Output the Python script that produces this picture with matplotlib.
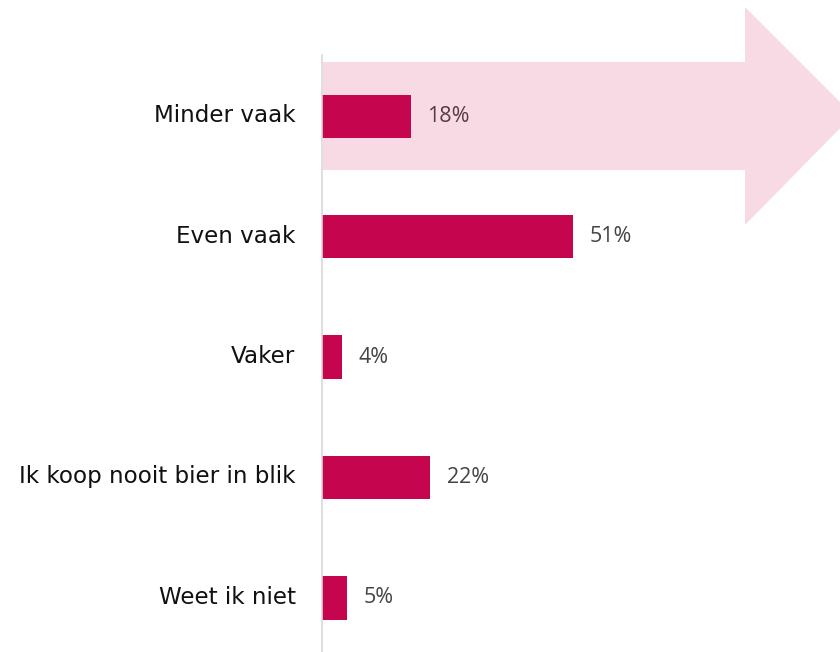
import matplotlib
matplotlib.use("Agg")
import matplotlib.pyplot as plt
import matplotlib.transforms as mtransforms
from matplotlib.patches import Polygon

categories = ["Minder vaak", "Even vaak", "Vaker", "Ik koop nooit bier in blik", "Weet ik niet"]
values = [18, 51, 4, 22, 5]
value_labels = ["18%", "51%", "4%", "22%", "5%"]

BAR_COLOR = "#C5064F"
ARROW_COLOR = "#F7DAE3"
W, H = 840, 652

fig = plt.figure(figsize=(W / 100, H / 100), dpi=100)
# axes: left edge at the grey axis line, top where the line starts
ax = fig.add_axes([322 / W, 0, 1 - 322 / W, 1 - 55 / H])
ax.set_facecolor("none")

# pink background arrow behind the first bar (figure pixel coords, y from top)
arrow_px = [(323, 62), (745, 62), (745, 7), (853, 115), (745, 225), (745, 170), (323, 170)]
arrow = Polygon([(x / W, 1 - y / H) for x, y in arrow_px], closed=True,
                facecolor=ARROW_COLOR, edgecolor="none",
                transform=fig.transFigure, clip_on=False, zorder=0)
ax.add_patch(arrow)

ypos = list(range(len(categories)))
ax.barh(ypos, values, height=0.36, color=BAR_COLOR, zorder=2)

ax.set_xlim(0, 518 / 4.92)
ax.set_ylim(4.45, -0.51)

for y, v, lab in zip(ypos, values, value_labels):
    ax.annotate(lab, (v, y), xytext=(12, 0), textcoords="offset points",
                va="center", ha="left", fontsize=15.5, family="Open Sans",
                color="#5a3a46" if y == 0 else "#444444", zorder=3)

ax.set_yticks(ypos)
ax.set_yticklabels(categories, fontsize=16.6, color="#111111", va="center_baseline")
ax.tick_params(axis="y", length=0, pad=19)
# nudge the category labels up a few pixels
shift = mtransforms.ScaledTranslation(0, 3 / 100, fig.dpi_scale_trans)
for t in ax.get_yticklabels():
    t.set_transform(t.get_transform() + shift)
ax.set_xticks([])
for s in ["top", "right", "bottom"]:
    ax.spines[s].set_visible(False)
ax.spines["left"].set_color("#D9D9D9")
ax.spines["left"].set_linewidth(1.2)

fig.savefig("out.png", dpi=100)
